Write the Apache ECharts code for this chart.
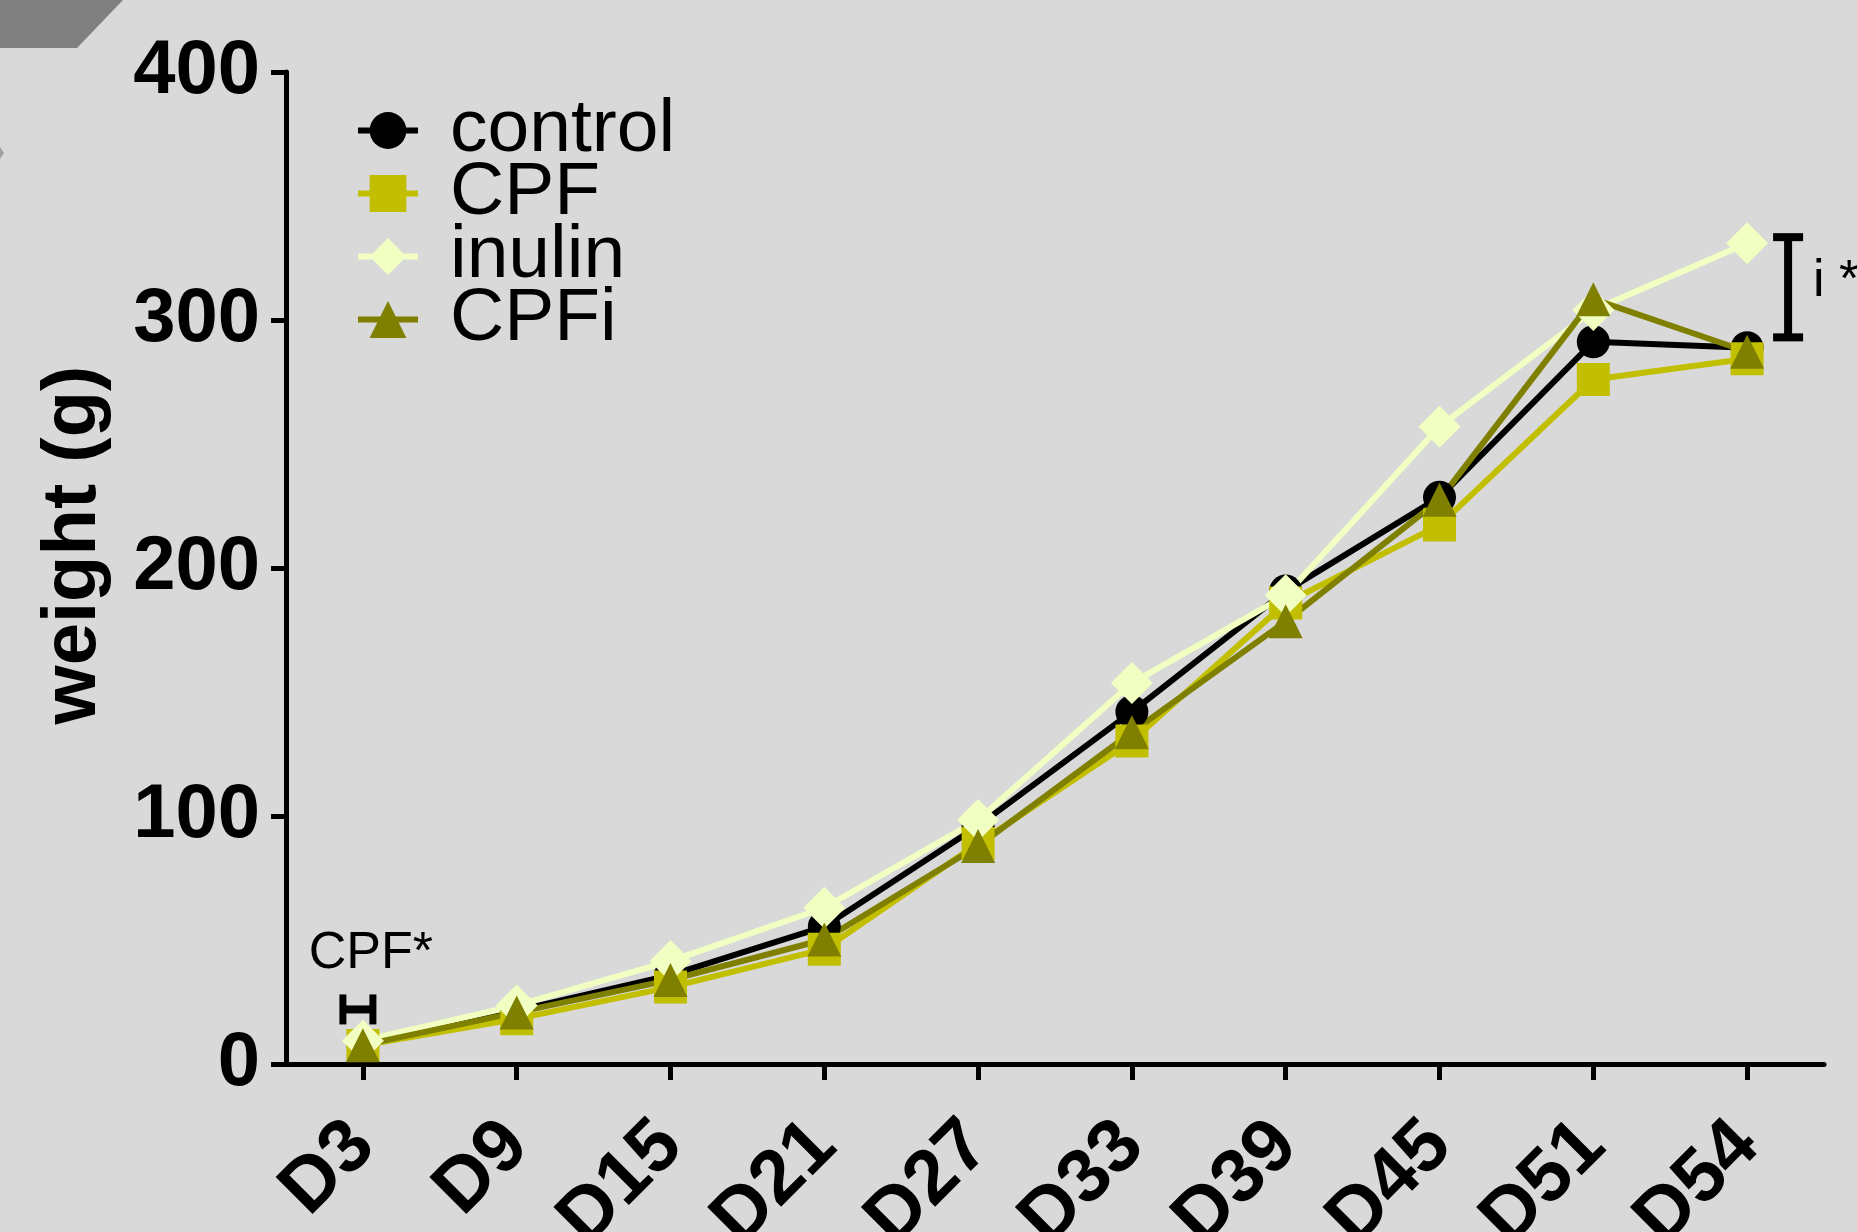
<!DOCTYPE html>
<html>
<head>
<meta charset="utf-8">
<script src="https://cdn.jsdelivr.net/npm/echarts@6/dist/echarts.min.js"></script>
<style>
  html, body { margin: 0; padding: 0; background: #d9d9d9; }
  #main { width: 1857px; height: 1232px; }
</style>
</head>
<body>
<div id="main"></div>
<script>
// data
var days = ["D3", "D9", "D15", "D21", "D27", "D33", "D39", "D45", "D51", "D54"];
var control = [8, 21.5, 35.8, 55.4, 96, 142, 190.7, 228.5, 291.2, 288.8];
var cpf = [7.5, 18.2, 31, 46.3, 88.9, 130.2, 185.9, 217.3, 276, 284.4];
var inulin = [9.4, 23.6, 41.5, 63, 98.4, 153.6, 189, 257, 304, 330.9];
var cpfi = [7.6, 20.8, 33.9, 50.2, 87.9, 133.8, 178.5, 227.5, 308.4, 287.2];
var yTicks = [0, 100, 200, 300, 400];
// significance marks: [category index, low, high] and [category index, value]
var bracketD54 = [[9, 293, 333.4]];
var barD3 = [[0, 22]];

var font = "'Liberation Sans', Arial, sans-serif";

var chart = echarts.init(document.getElementById("main"));

function lineSeries(name, data, color, symbol, size) {
  return {
    name: name,
    type: "line",
    data: data,
    symbol: symbol,
    symbolSize: size,
    showAllSymbol: true,
    lineStyle: { color: color, width: 6 },
    itemStyle: { color: color, opacity: 1 },
    emphasis: { disabled: true },
  };
}

var options = {
  animation: false,
  backgroundColor: "#d9d9d9",
  grid: { left: 286, right: 33, top: 72, bottom: 168, outerBoundsMode: "none", containLabel: false },
  legend: {
    orient: "vertical",
    left: 350,
    top: 88,
    itemWidth: 60,
    itemHeight: 46,
    itemGap: -12,
    lineStyle: { width: 6 },
    textStyle: {
      fontFamily: font,
      fontSize: 75,
      color: "#000",
      padding: [0, 0, 0, 27],
    },
    data: ["control", "CPF", "inulin", "CPFi"],
  },
  xAxis: {
    type: "category",
    data: days,
    axisLine: { show: true, lineStyle: { color: "#000", width: 5 } },
    axisTick: {
      show: true,
      interval: 0,
      alignWithLabel: true,
      length: 16,
      lineStyle: { color: "#000", width: 5 },
    },
    axisLabel: {
      interval: 0,
      rotate: 45,
      margin: 70,
      fontFamily: font,
      fontWeight: "bold",
      fontSize: 76,
      color: "#000",
    },
  },
  yAxis: {
    type: "value",
    min: yTicks[0],
    max: yTicks[yTicks.length - 1],
    interval: 100,
    name: "weight (g)",
    nameLocation: "middle",
    nameGap: 174,
    nameTextStyle: {
      fontFamily: font,
      fontWeight: "bold",
      fontSize: 76,
      color: "#000",
      padding: [0, 0, 0, 46],
    },
    splitLine: { show: false },
    axisLine: { show: true, lineStyle: { color: "#000", width: 5 } },
    axisTick: { show: true, length: 15, lineStyle: { color: "#000", width: 5 } },
    axisLabel: {
      margin: 26,
      fontFamily: font,
      fontWeight: "bold",
      fontSize: 76,
      color: "#000",
    },
  },
  series: [
    lineSeries("control", control, "#000000", "circle", 33),
    lineSeries("CPF", cpf, "#c2bf00", "rect", 33),
    lineSeries("inulin", inulin, "#f2ffc2", "diamond", 42),
    lineSeries("CPFi", cpfi, "#7f7f00", "triangle", 34),
    {
      // bracket with "i *" beside D54
      type: "custom",
      data: bracketD54,
      z: 5,
      renderItem: function (params, api) {
        var lo = api.coord([api.value(0), api.value(1)]);
        var hi = api.coord([api.value(0), api.value(2)]);
        var x = lo[0] + 41;
        var st = { stroke: "#000", lineWidth: 8 };
        return {
          type: "group",
          children: [
            { type: "line", shape: { x1: x, y1: lo[1], x2: x, y2: hi[1] }, style: st },
            { type: "line", shape: { x1: x - 15, y1: hi[1], x2: x + 15, y2: hi[1] }, style: st },
            { type: "line", shape: { x1: x - 15, y1: lo[1], x2: x + 15, y2: lo[1] }, style: st },
            {
              type: "text",
              style: {
                text: "i *",
                x: x + 25,
                y: (lo[1] + hi[1]) / 2 - 6,
                fill: "#000",
                font: "52px " + font,
                verticalAlign: "middle",
              },
            },
          ],
        };
      },
    },
    {
      // small H bar with "CPF*" at D3
      type: "custom",
      data: barD3,
      z: 5,
      renderItem: function (params, api) {
        var p = api.coord([api.value(0), api.value(1)]);
        var cx = p[0] - 5;
        return {
          type: "group",
          children: [
            { type: "line", shape: { x1: cx - 15, y1: p[1], x2: cx + 15, y2: p[1] }, style: { stroke: "#000", lineWidth: 8 } },
            { type: "line", shape: { x1: cx - 15, y1: p[1] - 15, x2: cx - 15, y2: p[1] + 15 }, style: { stroke: "#000", lineWidth: 7 } },
            { type: "line", shape: { x1: cx + 15, y1: p[1] - 15, x2: cx + 15, y2: p[1] + 15 }, style: { stroke: "#000", lineWidth: 7 } },
            {
              type: "text",
              style: {
                text: "CPF*",
                x: p[0] + 8,
                y: p[1] - 30,
                fill: "#000",
                font: "52px " + font,
                align: "center",
                verticalAlign: "bottom",
              },
            },
          ],
        };
      },
    },
  ],
  graphic: [
    {
      type: "polygon",
      shape: { points: [[0, 0], [123, 0], [77, 48], [0, 48]] },
      style: { fill: "#808080" },
    },
    {
      type: "polygon",
      shape: { points: [[0, 147], [4, 153], [0, 159]] },
      style: { fill: "#a0a0a0" },
    },
  ],
};

chart.setOption(options);
</script>
</body>
</html>
